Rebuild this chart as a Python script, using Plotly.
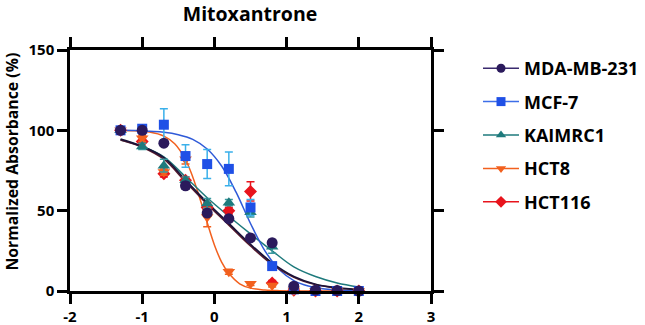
import plotly.graph_objects as go

# ---------------- data ----------------
log_dose = [-1.3, -1.0, -0.7, -0.4, -0.1, 0.2, 0.5, 0.8, 1.1, 1.4, 1.7, 2.0]

mda_y   = [100, 100, 92, 65.5, 48.5, 45, 33, 30, 3, 0.5, 0.3, 0]
mda_err = [0, 1.5, 1.5, 2, 2, 1.5, 1.5, 2, 0, 0, 0, 0]

mcf7_y   = [100, 101, 103.5, 84, 79, 76, 52, 15.5, 1, 0, 0, 0]
mcf7_err = [0, 2, 10, 7, 9, 10.5, 5, 2, 0, 0, 0, 0]

kai_y   = [100, 90, 78, 69, 54.5, 55, 49, 27.5, 1, 0, 0, 0]
kai_err = [0, 2, 4, 2, 3, 2, 3, 4, 0, 0, 0, 0]

hct8_y   = [100, 95, 74, 82, 46, 12, 4.5, 3.5, 0.3, 0, 0, 0]
hct8_err = [0, 2, 2, 3, 6, 1.5, 1, 1, 0, 0, 0, 0]

hct116_y   = [100, 93, 73, 69, 52, 50, 62, 5, 0.5, 0, 0, 0]
hct116_err = [0, 3, 2, 2, 3, 2, 6, 1.5, 0, 0, 0, 0]

# fitted curves
curve_x = [-1.3, -1.0, -0.7, -0.4, -0.1, 0.2, 0.5, 0.8, 1.1, 1.4, 1.7, 2.0]
mda_fit    = [94.5, 90, 83, 69, 55, 42, 29, 17.5, 9, 4.2, 2, 1]
hct116_fit = [94, 89.5, 82, 68, 54, 41, 28, 16.5, 8.5, 4, 1.8, 0.8]
kai_fit    = [94, 90, 83.5, 71, 58, 46.5, 35.5, 25, 15, 9, 5, 2.5]

mcf7_fit_x = [-1.3, -1.1, -0.9, -0.7, -0.5, -0.3, -0.1, 0.1, 0.3, 0.5, 0.7, 0.9, 1.1, 1.3, 1.5, 1.7, 2.0]
mcf7_fit   = [100, 99.9, 99.4, 98.8, 97.3, 94.4, 88.4, 77.8, 61.5, 42, 25, 13.2, 6.5, 3.1, 1.4, 0.7, 0.2]

hct8_fit_x = [-1.3, -1.1, -0.9, -0.7, -0.55, -0.4, -0.3, -0.2, -0.1, 0.0, 0.1, 0.2, 0.35, 0.5, 0.7, 0.9, 1.2, 2.0]
hct8_fit   = [99.9, 99.7, 98.9, 96.4, 91.6, 81.7, 71, 57.4, 42.6, 28.7, 18, 11, 4.5, 1.8, 0.6, 0.2, 0.05, 0]

series_names = ["MDA-MB-231", "MCF-7", "KAIMRC1", "HCT8", "HCT116"]

title_text = "Mitoxantrone"
y_title = "Normalized Absorbance (%)"
x_ticks = [-2, -1, 0, 1, 2, 3]
y_ticks = [0, 50, 100, 150]

# ---------------- styles ----------------
C_MDA = "#2b1a5c"
C_MCF = "#1f50e6"
C_MCF_ERR = "#3ab0ea"
C_MCF_LINE = "#2f5ad8"
C_KAI = "#1e7a7c"
C_HCT8 = "#f2601e"
C_HCT116 = "#e8141c"
C_HCT116_LINE = "#5a1a2c"

FONT = "Open Sans"


def b(t):
    return "<b>" + t + "</b>"


fig = go.Figure()

# curves
fig.add_trace(go.Scatter(x=hct8_fit_x, y=hct8_fit, mode="lines", line=dict(color=C_HCT8, width=1.5, shape="spline"),
                         showlegend=False, hoverinfo="skip", cliponaxis=False))
fig.add_trace(go.Scatter(x=curve_x, y=kai_fit, mode="lines", line=dict(color=C_KAI, width=1.5, shape="spline"),
                         showlegend=False, hoverinfo="skip"))
fig.add_trace(go.Scatter(x=mcf7_fit_x, y=mcf7_fit, mode="lines", line=dict(color=C_MCF_LINE, width=1.5, shape="spline"),
                         showlegend=False, hoverinfo="skip"))
fig.add_trace(go.Scatter(x=curve_x, y=hct116_fit, mode="lines", line=dict(color=C_HCT116_LINE, width=1.5, shape="spline"),
                         showlegend=False, hoverinfo="skip"))
fig.add_trace(go.Scatter(x=curve_x, y=mda_fit, mode="lines", line=dict(color="#1a1238", width=1.8, shape="spline"),
                         showlegend=False, hoverinfo="skip"))


# points
def pts(y, err, color, errcolor, symbol, size):
    return go.Scatter(x=log_dose, y=y, mode="markers",
                      marker=dict(color=color, symbol=symbol, size=size, line=dict(width=0)),
                      error_y=dict(type="data", array=err, visible=True, color=errcolor, thickness=1.5, width=4),
                      showlegend=False, cliponaxis=False)


fig.add_trace(pts(hct116_y, hct116_err, C_HCT116, C_HCT116, "diamond", 10))
fig.add_trace(pts(hct8_y, hct8_err, C_HCT8, C_HCT8, "triangle-down", 11))
fig.add_trace(pts(kai_y, kai_err, C_KAI, "#3a9aa0", "triangle-up", 11))
fig.add_trace(pts(mcf7_y, mcf7_err, C_MCF, C_MCF_ERR, "square", 10))
fig.add_trace(pts(mda_y, mda_err, C_MDA, C_MDA, "circle", 11))

# legend entries
legend_styles = [(C_MDA, "#3a2a6e", "circle"), (C_MCF, "#3d6ee8", "square"), (C_KAI, C_KAI, "triangle-up"),
                 (C_HCT8, C_HCT8, "triangle-down"), (C_HCT116, C_HCT116, "diamond")]
for i, (name, (mc, lc, sym)) in enumerate(zip(series_names, legend_styles)):
    fig.add_trace(go.Scatter(x=[None], y=[None], mode="lines+markers", name=b(name),
                             marker=dict(color=mc, symbol=sym, size=9),
                             line=dict(color=lc, width=1.5), legendrank=i + 1, legendgroup=name))

axis_common = dict(showline=True, linecolor="black", linewidth=2.5, mirror="allticks",
                   ticks="outside", ticklen=10, tickwidth=2.5, tickcolor="black",
                   showgrid=False, zeroline=False, automargin=False,
                   tickfont=dict(family=FONT, size=15, color="black"))

fig.update_layout(
    width=645, height=325,
    margin=dict(l=70, r=214, t=50, b=34, autoexpand=False),
    paper_bgcolor="white", plot_bgcolor="white",
    title=dict(text=b(title_text), x=250 / 645, xanchor="center", y=1 - 14 / 325, yanchor="middle",
               yref="container", xref="container", automargin=False,
               font=dict(family=FONT, size=19.5, color="black")),
    xaxis=dict(range=[-2, 3], tickvals=x_ticks, ticktext=[b(str(v)) for v in x_ticks],
               ticklabelstandoff=0, **axis_common),
    yaxis=dict(range=[0, 150], tickvals=y_ticks, ticktext=[b(str(v)) for v in y_ticks],
               **axis_common),
    annotations=[dict(text=b(y_title), xref="paper", yref="paper",
                      x=(11 - 70) / 361, y=(291 - 161.5) / 241, xanchor="center", yanchor="middle",
                      textangle=-90, showarrow=False,
                      font=dict(family=FONT, size=15.8, color="black"))],
    legend=dict(x=(478 - 70) / 361, xanchor="left", y=1.0, yanchor="top",
                font=dict(family=FONT, size=18, color="black"),
                tracegroupgap=7, itemwidth=36, bgcolor="rgba(0,0,0,0)"),
    showlegend=True,
)

fig.write_html("out.html", config={"displayModeBar": False},
               post_script="document.body.style.margin='0';")
